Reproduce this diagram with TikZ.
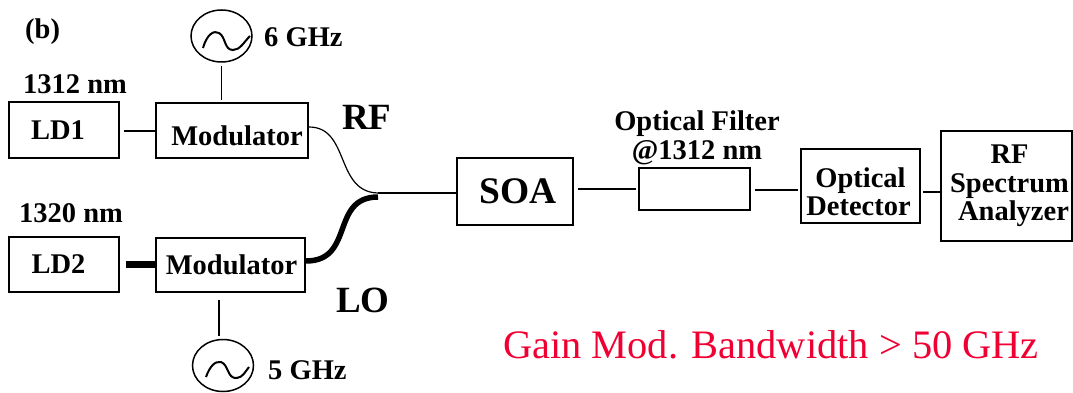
\documentclass[tikz,border=0pt]{standalone}
\usepackage{fontspec}
\setmainfont{Liberation Serif}
\usetikzlibrary{shapes.geometric}
\newcommand{\bfsize}[1]{\fontsize{#1}{28.5}\selectfont\bfseries}
\newcommand{\lowered}[2]{\raisebox{-#1}[\height][\depth]{#2}}
\tikzset{
  blk/.style = {draw, line width=2pt, inner sep=0pt, align=center, font=\bfsize{28.5}},
  tag/.style = {inner sep=0pt, align=center, font=\bfsize{28.5}},
  bigtag/.style = {inner sep=0pt, font=\bfsize{37}},
  fibre/.style = {line width=1.5pt},
  thickfibre/.style = {line width=2pt},
  fat/.style = {line width=6.5pt},
  osc/.style = {draw, ellipse, line width=1.5pt, inner sep=0pt, minimum width=61pt, minimum height=52pt}
}

\begin{document}
\begin{tikzpicture}[x=1pt,y=-1pt]
\useasboundingbox (0,0) rectangle (1073,393);
% upper arm
\node[blk, minimum width=110pt, minimum height=56pt] (ldone) at (64,130) {\hspace*{-12pt}LD1};
\node[blk, minimum width=152pt, minimum height=55pt] (modone) at (232,130.5) {\hspace*{10pt}\lowered{5pt}{Modulator}};
\node[osc] (oscone) at (221.5,36) {};
\node[tag, anchor=west] (fsix) at (264,37) {6 GHz};
\node[tag, anchor=west] (wlone) at (23,84) {1312 nm};
% lower arm
\node[blk, minimum width=110pt, minimum height=55pt] (ldtwo) at (64,264.5) {\hspace*{-11pt}LD2};
\node[blk, minimum width=149pt, minimum height=54pt] (modtwo) at (230.5,265) {\hspace*{2pt}Modulator};
\node[osc] (osctwo) at (223,365.5) {};
\node[tag, anchor=west] (ffive) at (268,370) {5 GHz};
\node[tag, anchor=west] (wltwo) at (19,213) {1320 nm};
% output chain
\node[blk, font=\bfsize{37.5}, minimum width=116pt, minimum height=67pt] (soa) at (515,191.5) {\hspace*{7pt}SOA};
\node[blk, minimum width=111pt, minimum height=42pt] (filter) at (694.5,189) {};
\node[blk, minimum width=119pt, minimum height=74pt] (det) at (860.5,186) {\lowered{6pt}{Optical}\\\hspace*{-4pt}\lowered{6pt}{Detector}};
\node[blk, minimum width=131pt, minimum height=110pt] (rfsa) at (1006.5,186) {\hspace*{6pt}RF\\\hspace*{6pt}Spectrum\\\hspace*{14pt}Analyzer};
\coordinate (merge) at (378,193);
% labels
\node[tag, anchor=west] (b) at (25,32) {(b)};
\node[bigtag, anchor=west] (rf) at (342,117) {RF};
\node[bigtag, anchor=west] (lo) at (336,300) {LO};
\node[tag] (filtername) at (697,138) {Optical Filter\\@1312 nm};
\node[inner sep=0pt, anchor=west, text={rgb,255:red,240;green,0;blue,50}, font=\fontsize{40.4}{42}\selectfont] (gain) at (503,345) {Gain Mod. Bandwidth > 50 GHz};
% connectors
\draw[fibre, shorten <=4pt] (ldone.east |- 0,131) -- (modone.west |- 0,131);
\draw[fat, shorten <=6pt] (ldtwo.east |- 0,264.5) -- (modtwo.west |- 0,264.5);
\draw[fibre, shorten <=3pt, shorten >=2pt] (oscone) -- (oscone |- modone.north);
\draw[fibre, shorten >=3pt, shorten <=7pt] (modtwo.south -| 219,0) -- (osctwo.north -| 219,0);
\draw[line width=1.2pt] (modone.east |- 0,127) .. controls (350,127) and (335,192) .. (merge);
\draw[line width=5.5pt] (modtwo.east |- 0,261) .. controls (355,261) and (330,197) .. (merge |- 0,197);
\draw[fibre] (merge) -- (soa.west |- merge);
\draw[thickfibre, shorten <=4pt, shorten >=2pt] (soa.east |- 0,189) -- (filter.west |- 0,189);
\draw[thickfibre, shorten <=4pt, shorten >=2pt] (filter.east |- 0,190) -- (det.west |- 0,190);
\draw[thickfibre, shorten <=2pt] (det.east |- 0,192) -- (rfsa.west |- 0,192);
% sine glyphs
\draw[line width=2pt] (203,48) .. controls (207,34) and (214,30) .. (219,33) .. controls (226,37) and (224,50) .. (233,50) .. controls (240,50) and (244,42) .. (250,36);
\draw[line width=2pt] (206,377) .. controls (210,366) and (215,361) .. (221,362) .. controls (229,365) and (227,379) .. (237,378) .. controls (243,377) and (245,372) .. (249,367);
\end{tikzpicture}
\end{document}
